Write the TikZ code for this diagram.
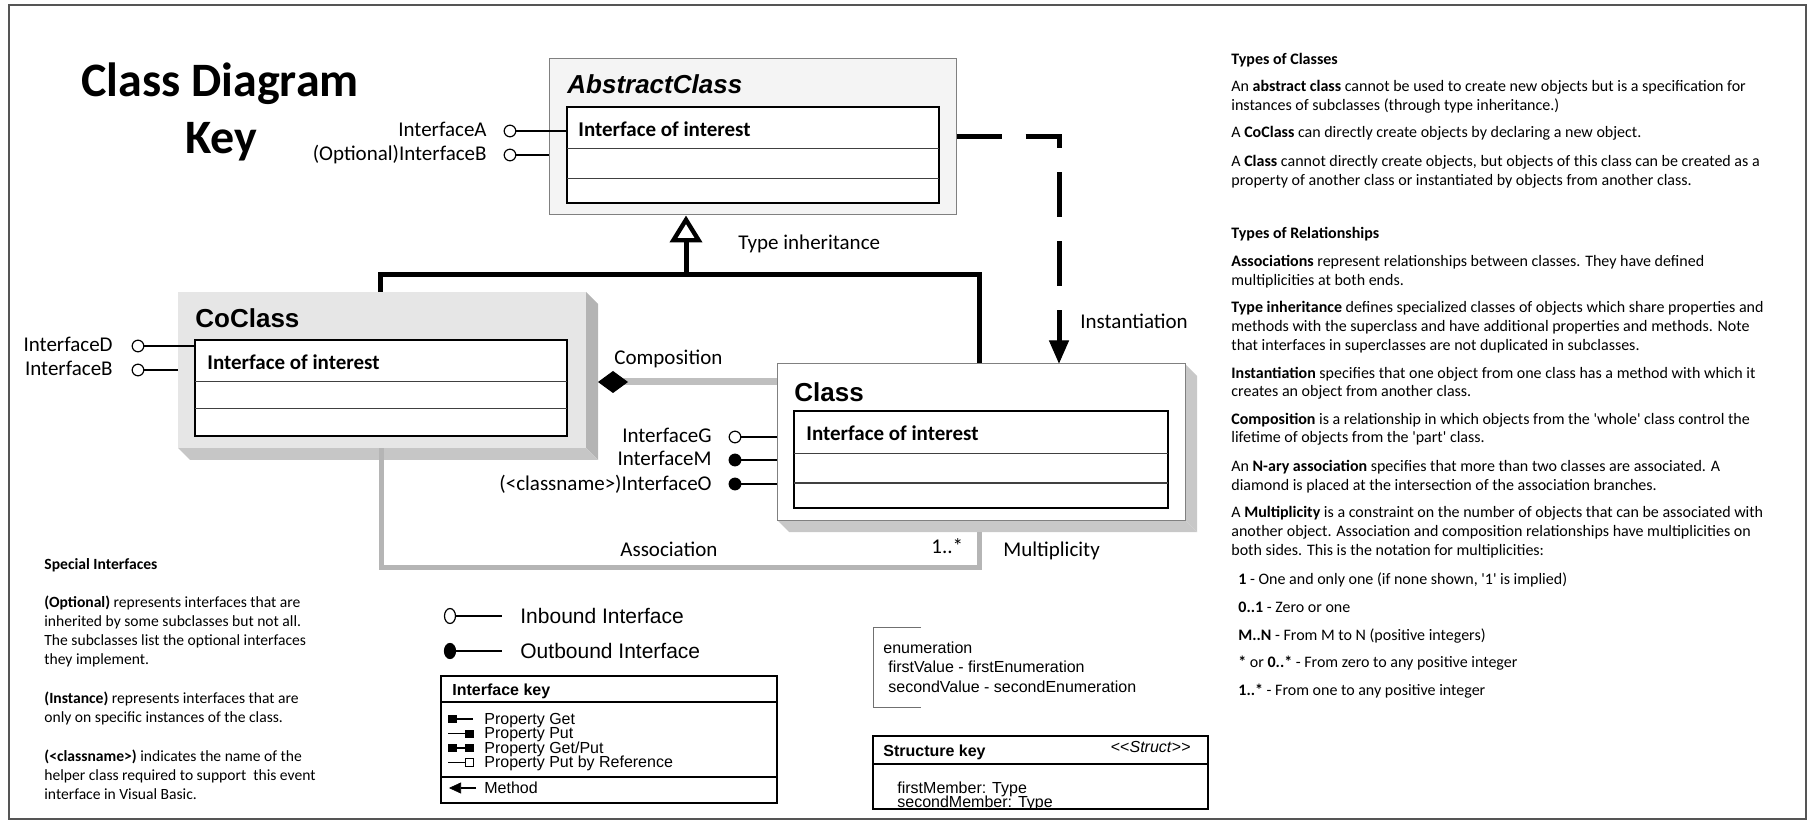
\documentclass[tikz,border=0pt]{standalone}
\usepackage{fontspec}
\setmainfont{Carlito}
\newfontfamily\arialf{Liberation Sans}
\usetikzlibrary{arrows.meta,fit,shapes.geometric}
\definecolor{framec}{HTML}{555555}
\definecolor{absfill}{HTML}{F4F4F4}
\definecolor{boxedge}{HTML}{808080}
\definecolor{cofill}{HTML}{E6E6E6}
\definecolor{shadeR}{HTML}{B4B4B4}
\definecolor{shadeB}{HTML}{C6C6C6}
\definecolor{clsshade}{HTML}{C8C8C8}
\definecolor{compc}{HTML}{BFBFBF}
\definecolor{assocc}{HTML}{B5B5B5}
\definecolor{rowc}{HTML}{404040}
\definecolor{enumc}{HTML}{707070}
\begin{document}
\begin{tikzpicture}[x=0.5pt,y=-0.5pt,
  lbl/.style={inner sep=0pt, font=\fontsize{10.5pt}{12pt}\selectfont},
  iface/.style={inner sep=0pt, anchor=base west, font=\bfseries\fontsize{10.5pt}{12pt}\selectfont},
  cname/.style={inner sep=0pt, anchor=base west, font=\arialf\bfseries\fontsize{13pt}{15pt}\selectfont},
  outerbox/.style={inner sep=0pt, draw=boxedge, line width=0.5pt},
  innerbox/.style={inner sep=0pt, draw=black, fill=white, line width=0.8pt},
  rowline/.style={draw=rowc, line width=0.5pt},
  lolo/.style={circle, draw=black, fill=white, line width=0.6pt, inner sep=0pt, minimum size=5.8pt},
  lolf/.style={circle, draw=black, fill=black, line width=0.6pt, inner sep=0pt, minimum size=5.8pt},
  stick/.style={draw=black, line width=0.6pt},
  inh/.style={draw=black, line width=2.5pt},
  inst/.style={draw=black, line width=2.5pt, dash pattern=on 22.5pt off 12pt, -{Triangle[length=11.5pt, width=10pt, line width=0.5pt]}},
  note/.style={inner sep=0pt, anchor=base west, align=left, font=\fontsize{8pt}{9.3pt}\selectfont},
  lnote/.style={inner sep=0pt, anchor=base west, align=left, font=\fontsize{7.8pt}{9.6pt}\selectfont},
  ar/.style={inner sep=0pt, anchor=base west, font=\arialf\fontsize{8pt}{9pt}\selectfont},
  keybox/.style={inner sep=0pt, draw=black, line width=1pt, fill=white}
]
\useasboundingbox (0,0) rectangle (1817,834);

% frame
\node[fit={(9,5)(1806,819)}, inner sep=0pt, draw=framec, line width=0.75pt] (frame) {};

% title
\node[inner sep=0pt, anchor=base west, font=\bfseries\fontsize{24pt}{28pt}\selectfont] (title1) at (81,97) {Class Diagram};
\node[inner sep=0pt, anchor=base west, font=\bfseries\fontsize{24pt}{28pt}\selectfont] (title2) at (185,154) {Key};

% ---------- AbstractClass
\node[outerbox, fill=absfill, fit={(549,59)(956,215)}] (abs) {};
\node[innerbox, fit={(567,107)(939,203)}] (absin) {};
\draw[rowline] (567,149) -- (939,149) (567,179) -- (939,179);
\node[cname, font=\arialf\bfseries\itshape\fontsize{13pt}{15pt}\selectfont] (absT) at (567,94) {AbstractClass};
\node[iface] (absI) at (578,137) {Interface of interest};

\node[lolo] (ia) at (510,131) {};
\node[lbl, anchor=base east] (ial) at (487,137) {InterfaceA};
\draw[stick] (ia) -- (ia -| absin.west);
\node[lolo] (ib) at (510,155) {};
\node[lbl, anchor=base east] (ibl) at (487,161) {(Optional)InterfaceB};
\draw[stick] (ib) -- (ib -| abs.west);

% ---------- CoClass
\fill[shadeR] (586,292) -- (598,304) -- (598,460) -- (586,448) -- cycle;
\fill[shadeB] (178,448) -- (586,448) -- (598,460) -- (190,460) -- cycle;
\node[inner sep=0pt, fill=cofill, fit={(178,292)(586,448)}] (co) {};
\node[innerbox, fit={(195,340)(567,436)}] (coin) {};
\draw[rowline] (195,382) -- (567,382) (195,409) -- (567,409);
\node[cname] (coT) at (195,328) {CoClass};
\node[iface] (coI) at (207,370) {Interface of interest};

\node[lolo] (id) at (138,346) {};
\node[lbl, anchor=base east] (idl) at (113,352) {InterfaceD};
\draw[stick] (id) -- (id -| coin.west);
\node[lolo] (ib2) at (138,370) {};
\node[lbl, anchor=base east] (ib2l) at (113,376) {InterfaceB};
\draw[stick] (ib2) -- (ib2 -| co.west);

% ---------- Class
\fill[clsshade] (1185,364) -- (1197,376) -- (1197,532) -- (1185,520) -- cycle;
\fill[clsshade] (777,520) -- (1185,520) -- (1197,532) -- (789,532) -- cycle;
\node[outerbox, fill=white, fit={(777,364)(1185,520)}] (cls) {};
\node[innerbox, fit={(794,411)(1168,508)}] (clsin) {};
\draw[rowline] (794,454) -- (1168,454) (794,483) -- (1168,483);
\node[cname] (clsT) at (794,401) {Class};
\node[iface] (clsI) at (806,441) {Interface of interest};

\node[lolo] (ig) at (735,437) {};
\node[lbl, anchor=base east] (igl) at (712,443) {InterfaceG};
\draw[stick] (ig) -- (ig -| cls.west);
\node[lolf] (im) at (735,460) {};
\node[lbl, anchor=base east] (iml) at (712,466) {InterfaceM};
\draw[stick] (im) -- (im -| cls.west);
\node[lolf] (io) at (735,484) {};
\node[lbl, anchor=base east] (iol) at (712,490) {(<classname>)InterfaceO};
\draw[stick] (io) -- (io -| cls.west);

% ---------- inheritance
\coordinate (jn) at (686,275);
\coordinate (jl) at (380,275);
\coordinate (jr) at (979,275);
\draw[inh] (jl |- co.north) -- (jl) -- (jr) -- (jr |- cls.north);
\draw[inh, -{Triangle[fill=white, length=13.5pt, width=16pt, line width=2.2pt]}] (jn) -- (jn |- abs.south);
\node[lbl, anchor=base west] (tinh) at (738,250) {Type inheritance};

% ---------- instantiation
\coordinate (ix) at (1059,0);
\draw[inst] (abs.east) -| (ix |- cls.north);
\node[lbl, anchor=base west] (tinst) at (1080,329) {Instantiation};

% ---------- composition
\coordinate (cj) at (598,382);
\draw[draw=compc, line width=3.5pt, -{Diamond[length=15pt, width=11pt, color=black, fill=black, line width=0.5pt]}] (cj -| cls.west) -- (cj);
\node[lbl, anchor=base west] (tcomp) at (614,365) {Composition};

% ---------- association
\coordinate (al) at (381,567);
\coordinate (arr) at (979,567);
\coordinate (clsbot) at (0,532);
\draw[draw=assocc, line width=2.5pt] (al |- co.south) -- (al) -- (arr) -- (arr |- clsbot);
\node[lbl, anchor=base west] (tassoc) at (620,556) {Association};
\node[lbl, anchor=base west] (tmult1) at (931,553) {1..*};
\node[lbl, anchor=base west] (tmult) at (1003,556) {Multiplicity};

% ---------- special interfaces (anchor = baseline of the last line)
\node[lnote] (si) at (44,569) {\textbf{Special Interfaces}};
\node[lnote] (si1) at (44,664.6) {\textbf{(Optional)} represents interfaces that are\\inherited by some subclasses but not all.\\The subclasses list the optional interfaces\\they implement.};
\node[lnote] (si2) at (44,722.2) {\textbf{(Instance)} represents interfaces that are\\only on specific instances of the class.};
\node[lnote] (si3) at (44,799.4) {\textbf{(<classname>)} indicates the name of the\\helper class required to support\ \ this event\\interface in Visual Basic.};

% ---------- inbound / outbound legend
\node[ellipse, draw=black, fill=white, line width=0.6pt, inner sep=0pt, minimum width=5.5pt, minimum height=7.5pt] (inb) at (450,616) {};
\coordinate (inbE) at (502,616);
\draw[stick] (inb) -- (inbE);
\node[inner sep=0pt, anchor=base west, font=\arialf\fontsize{10.5pt}{12pt}\selectfont] (inbT) at (520,623) {Inbound Interface};
\node[ellipse, draw=black, fill=black, line width=0.6pt, inner sep=0pt, minimum width=5.5pt, minimum height=7.5pt] (outb) at (450,651) {};
\coordinate (outbE) at (502,651);
\draw[stick] (outb) -- (outbE);
\node[inner sep=0pt, anchor=base west, font=\arialf\fontsize{10.5pt}{12pt}\selectfont] (outbT) at (520,658) {Outbound Interface};

% ---------- interface key
\node[keybox, fit={(441,676)(777,803)}] (ikey) {};
\draw[draw=black, line width=0.6pt] (441,702) -- (777,702) (441,777) -- (777,777);
\node[ar, font=\arialf\bfseries\fontsize{8pt}{9pt}\selectfont] (ikT) at (452,695) {Interface key};
\node[ar] (pg) at (484,724) {Property Get};
\node[ar] (pp) at (484,738.5) {Property Put};
\node[ar] (pgp) at (484,753) {Property Get/Put};
\node[ar] (ppr) at (484,767.5) {Property Put by Reference};
\node[ar] (meth) at (484,793) {Method};
\fill (448,715) rectangle (457,723);
\draw[line width=0.6pt] (457,719) -- (473,719);
\draw[line width=0.6pt] (448,733.5) -- (465,733.5);
\fill (465,729.5) rectangle (474,737.5);
\fill (448,744) rectangle (457,752);
\draw[line width=0.6pt] (457,748) -- (465,748);
\fill (465,744) rectangle (474,752);
\draw[line width=0.6pt] (448,762.5) -- (465,762.5);
\draw[line width=0.5pt, fill=white] (465.5,758.5) rectangle (473.5,766.5);
\draw[line width=0.8pt, -{Triangle[length=6pt, width=5.5pt, line width=0.3pt]}] (476,788) -- (449,788);

% ---------- enumeration
\draw[draw=enumc, line width=0.5pt] (921,627) -- (873,627) -- (873,707) -- (921,707);
\node[ar] (en1) at (883,653) {enumeration};
\node[ar] (en2) at (888,672) {firstValue - firstEnumeration};
\node[ar] (en3) at (888,692) {secondValue - secondEnumeration};

% ---------- structure key
\node[keybox, fit={(873,736)(1208,809)}] (skey) {};
\draw[draw=black, line width=0.6pt] (873,764) -- (1208,764);
\node[ar, font=\arialf\bfseries\fontsize{8pt}{9pt}\selectfont] (skT) at (883,756) {Structure key};
\node[ar, anchor=base east] (skS) at (1191,752) {<<\textit{Struct}>>};
\begin{scope}
\clip (874,765) rectangle (1207,808);
\node[ar] (sk1) at (897,793) {firstMember: Type};
\node[ar] (sk2) at (897,807) {secondMember: Type};
\end{scope}

% ---------- right column (anchor = baseline of the last line)
\node[note] (r1) at (1231,65) {\textbf{Types of Classes}};
\node[note] (r2) at (1231,110.6) {An \textbf{abstract class} cannot be used to create new objects but is a specification for\\instances of subclasses (through type inheritance.)};
\node[note] (r3) at (1231,138) {A \textbf{CoClass} can directly create objects by declaring a new object.};
\node[note] (r4) at (1231,185.6) {A \textbf{Class} cannot directly create objects, but objects of this class can be created as a\\property of another class or instantiated by objects from another class.};
\node[note] (r5) at (1231,239) {\textbf{Types of Relationships}};
\node[note] (r6) at (1231,285.6) {\textbf{Associations} represent relationships between classes. They have defined\\multiplicities at both ends.};
\node[note] (r7) at (1231,350.2) {\textbf{Type inheritance} defines specialized classes of objects which share properties and\\methods with the superclass and have additional properties and methods. Note\\that interfaces in superclasses are not duplicated in subclasses.};
\node[note] (r8) at (1231,396.6) {\textbf{Instantiation} specifies that one object from one class has a method with which it\\creates an object from another class.};
\node[note] (r9) at (1231,443) {\textbf{Composition} is a relationship in which objects from the \textquotesingle whole\textquotesingle{} class control the\\lifetime of objects from the \textquotesingle part\textquotesingle{} class.};
\node[note] (r10) at (1231,490) {An \textbf{N-ary association} specifies that more than two classes are associated. A\\diamond is placed at the intersection of the association branches.};
\node[note] (r11) at (1231,555) {A \textbf{Multiplicity} is a constraint on the number of objects that can be associated with\\another object. Association and composition relationships have multiplicities on\\both sides. This is the notation for multiplicities:};
\node[note] (m1) at (1238,584) {\textbf{1} - One and only one (if none shown, \textquotesingle 1\textquotesingle{} is implied)};
\node[note] (m2) at (1238,612) {\textbf{0..1} - Zero or one};
\node[note] (m3) at (1238,640) {\textbf{M..N} - From M to N (positive integers)};
\node[note] (m4) at (1238,667) {\textbf{*} or \textbf{0..*} - From zero to any positive integer};
\node[note] (m5) at (1238,695) {\textbf{1..*} - From one to any positive integer};
\end{tikzpicture}
\end{document}
